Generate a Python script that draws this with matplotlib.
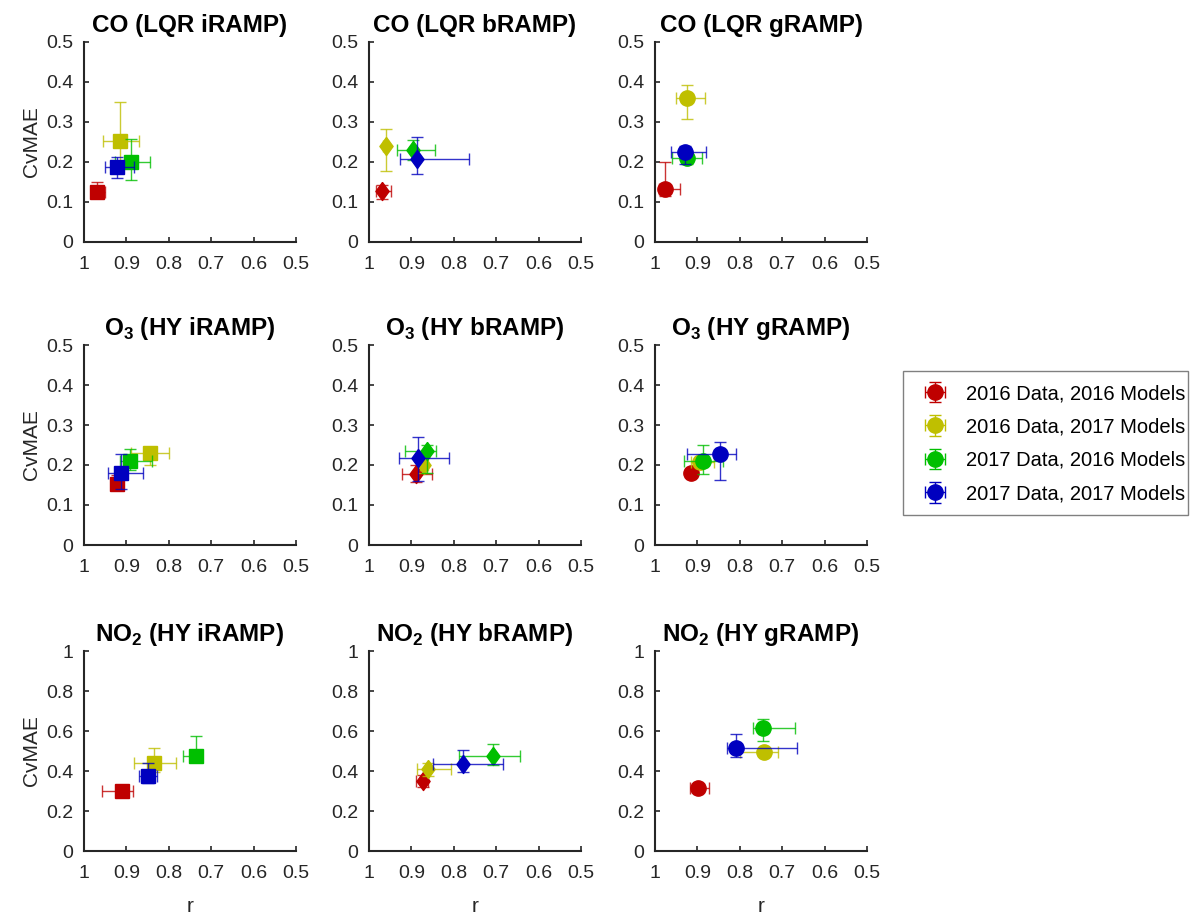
import matplotlib
matplotlib.use("Agg")
import matplotlib.pyplot as plt
from matplotlib.patches import Rectangle
import numpy as np

plt.rcParams['font.family'] = ['Liberation Sans', 'DejaVu Sans']
plt.rcParams['mathtext.fontset'] = 'custom'
plt.rcParams['mathtext.rm'] = 'Liberation Sans'
plt.rcParams['mathtext.bf'] = 'Liberation Sans:bold'

# ---------------- data ----------------
titles = [r"CO (LQR iRAMP)", r"CO (LQR bRAMP)", r"CO (LQR gRAMP)",
          r"O$_{\mathbf{3}}$ (HY iRAMP)", r"O$_{\mathbf{3}}$ (HY bRAMP)", r"O$_{\mathbf{3}}$ (HY gRAMP)",
          r"NO$_{\mathbf{2}}$ (HY iRAMP)", r"NO$_{\mathbf{2}}$ (HY bRAMP)", r"NO$_{\mathbf{2}}$ (HY gRAMP)"]
series_labels = ["2016 Data, 2016 Models", "2016 Data, 2017 Models",
                 "2017 Data, 2016 Models", "2017 Data, 2017 Models"]
series_colors = ["#BF0000", "#BFBF00", "#00BF00", "#0000BF"]

# r centre, r upper bound, r lower bound (per panel, per series)
r_center = [[0.970, 0.915, 0.888, 0.923],
            [0.969, 0.961, 0.896, 0.886],
            [0.976, 0.925, 0.924, 0.929],
            [0.923, 0.845, 0.892, 0.913],
            [0.889, 0.871, 0.8635, 0.885],
            [0.916, 0.894, 0.887, 0.846],
            [0.911, 0.835, 0.736, 0.849],
            [0.873, 0.861, 0.707, 0.779],
            [0.898, 0.742, 0.746, 0.809]]
r_upper = [[0.983, 0.956, 0.927, 0.950],
           [0.983, 0.966, 0.933, 0.926],
           [0.990, 0.950, 0.961, 0.963],
           [0.930, 0.889, 0.915, 0.944],
           [0.922, 0.880, 0.914, 0.929],
           [0.925, 0.915, 0.931, 0.924],
           [0.958, 0.882, 0.766, 0.871],
           [0.890, 0.886, 0.787, 0.849],
           [0.917, 0.800, 0.768, 0.831]]
r_lower = [[0.950, 0.870, 0.844, 0.882],
           [0.947, 0.956, 0.845, 0.765],
           [0.941, 0.883, 0.890, 0.880],
           [0.912, 0.800, 0.839, 0.860],
           [0.851, 0.860, 0.843, 0.8125],
           [0.905, 0.861, 0.839, 0.810],
           [0.885, 0.784, 0.721, 0.829],
           [0.860, 0.806, 0.643, 0.685],
           [0.872, 0.710, 0.669, 0.664]]
# CvMAE centre, lower bound, upper bound
cv_center = [[0.125, 0.252, 0.200, 0.187],
             [0.127, 0.240, 0.231, 0.208],
             [0.132, 0.359, 0.209, 0.224],
             [0.153, 0.230, 0.211, 0.181],
             [0.177, 0.199, 0.234, 0.217],
             [0.180, 0.207, 0.211, 0.228],
             [0.300, 0.442, 0.477, 0.375],
             [0.352, 0.408, 0.475, 0.435],
             [0.313, 0.493, 0.613, 0.517]]
cv_lower = [[0.110, 0.200, 0.156, 0.160],
            [0.108, 0.177, 0.204, 0.171],
            [0.115, 0.307, 0.195, 0.195],
            [0.140, 0.201, 0.187, 0.140],
            [0.158, 0.180, 0.181, 0.159],
            [0.170, 0.195, 0.177, 0.162],
            [0.280, 0.397, 0.447, 0.338],
            [0.320, 0.375, 0.430, 0.397],
            [0.295, 0.480, 0.550, 0.472]]
cv_upper = [[0.150, 0.350, 0.258, 0.212],
            [0.142, 0.282, 0.256, 0.262],
            [0.201, 0.393, 0.225, 0.240],
            [0.175, 0.245, 0.239, 0.228],
            [0.199, 0.220, 0.249, 0.271],
            [0.190, 0.220, 0.250, 0.257],
            [0.320, 0.513, 0.575, 0.438],
            [0.380, 0.438, 0.533, 0.505],
            [0.330, 0.510, 0.660, 0.583]]

x_ticks = [1.0, 0.9, 0.8, 0.7, 0.6, 0.5]
x_ticklabels = ["1", "0.9", "0.8", "0.7", "0.6", "0.5"]
y_ticks_small = [0, 0.1, 0.2, 0.3, 0.4, 0.5]
y_ticklabels_small = ["0", "0.1", "0.2", "0.3", "0.4", "0.5"]
y_ticks_large = [0, 0.2, 0.4, 0.6, 0.8, 1.0]
y_ticklabels_large = ["0", "0.2", "0.4", "0.6", "0.8", "1"]

# ---------------- style ----------------
diamond = [(0, 1), (0.73, 0), (0, -1), (-0.73, 0), (0, 1)]
col_markers = ['s', diamond, 'o']
col_msizes = [9.5, 13, 11]
AX_COL = '#262626'

W, H = 1191, 919
fig = plt.figure(figsize=(W / 100, H / 100), dpi=100)
lefts = [84, 369, 655]
tops = [42, 345, 651]
aw, ah = 212, 200

for p in range(9):
    row, col = divmod(p, 3)
    ax = fig.add_axes([lefts[col] / W, 1 - (tops[row] + ah) / H, aw / W, ah / H])
    for s in range(4):
        rc = np.array(r_center[p][s])
        cc = np.array(cv_center[p][s])
        xerr = [[rc - r_lower[p][s]], [r_upper[p][s] - rc]]
        yerr = [[cc - cv_lower[p][s]], [cv_upper[p][s] - cc]]
        ax.errorbar([rc], [cc], xerr=xerr, yerr=yerr, fmt='none',
                    ecolor=series_colors[s], elinewidth=1.0, capsize=4.5,
                    capthick=1.0, alpha=0.8, zorder=2 + s * 2)
        ax.plot([rc], [cc], linestyle='none', marker=col_markers[col],
                markersize=col_msizes[col], color=series_colors[s],
                markeredgecolor=series_colors[s], zorder=3 + s * 2)
    ax.set_xlim(1.0, 0.5)
    ax.set_xticks(x_ticks)
    ax.set_xticklabels(x_ticklabels)
    if row < 2:
        ax.set_ylim(0, 0.5)
        ax.set_yticks(y_ticks_small)
        ax.set_yticklabels(y_ticklabels_small)
    else:
        ax.set_ylim(0, 1.0)
        ax.set_yticks(y_ticks_large)
        ax.set_yticklabels(y_ticklabels_large)
    for side in ['top', 'right']:
        ax.spines[side].set_visible(False)
    for side in ['left', 'bottom']:
        ax.spines[side].set_color(AX_COL)
        ax.spines[side].set_linewidth(1.5)
    ax.tick_params(direction='in', length=3.5, width=1.2, colors=AX_COL,
                   labelsize=14)
    ax.tick_params(axis='x', pad=10)
    ax.tick_params(axis='y', pad=7.5)
    ax.set_title(titles[p], fontsize=17.5, fontweight='bold', pad=7, color='black')
    if col == 0:
        ax.set_ylabel("CvMAE", fontsize=15, color=AX_COL, labelpad=4)
    if row == 2:
        ax.set_xlabel("r", fontsize=15, color=AX_COL, labelpad=11)

# legend
leg_handles = []
for s in range(4):
    h = fig.axes[2].errorbar([np.nan], [np.nan], xerr=[0.1], yerr=[0.1], fmt='o',
                             color=series_colors[s], markersize=11, capsize=4.5,
                             elinewidth=1.0)
    leg_handles.append(h)
leg = fig.legend(leg_handles, series_labels, loc='upper left',
                 bbox_to_anchor=(915 / W, 1 - 384 / H), fontsize=14.5,
                 frameon=False, borderaxespad=0, borderpad=0,
                 handlelength=2.0, handletextpad=0.55, labelspacing=0.72)
fig.patches.append(Rectangle((903 / W, 1 - 515 / H), 285 / W, 144 / H,
                             transform=fig.transFigure, fill=False,
                             edgecolor='#808080', linewidth=1.0))

fig.savefig("out.png", dpi=100, facecolor='white')
